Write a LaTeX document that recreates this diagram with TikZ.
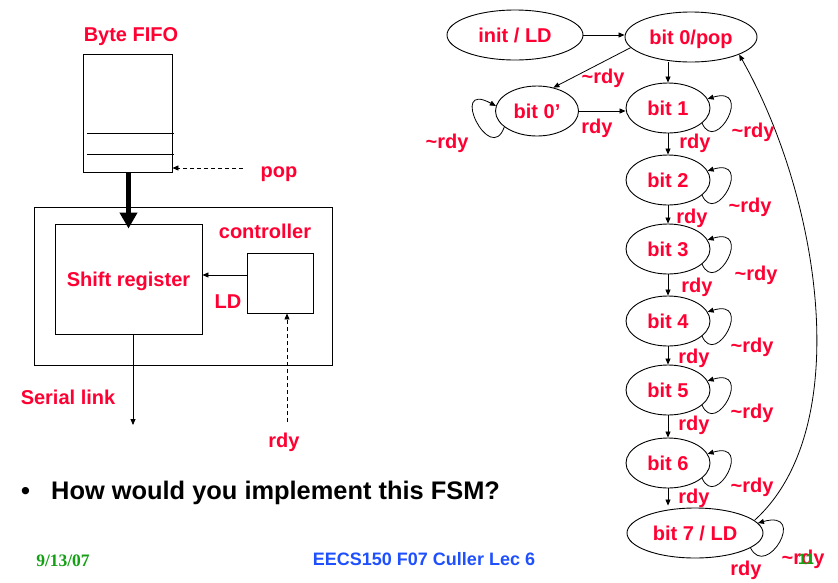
\documentclass[tikz,border=0pt]{standalone}
\usepackage{fontspec}
\setmainfont{Liberation Sans}
\newfontfamily\timesfont{Liberation Serif}
\usetikzlibrary{arrows.meta,shapes.geometric,calc}
\definecolor{myred}{RGB}{255,0,51}
\definecolor{mygreen}{RGB}{20,160,20}
\definecolor{myblue}{RGB}{30,80,255}
\begin{document}
\begin{tikzpicture}[x=1pt,y=-1pt,
  lbl/.style={font=\fontsize{20}{24}\selectfont\bfseries, text=myred, inner sep=0pt, anchor=base},
  state/.style={ellipse, draw, line width=0.9pt, inner sep=0pt, text=myred,
    font=\fontsize{20}{24}\selectfont\bfseries, text height=14.3pt, text depth=0pt,
    minimum width=84pt, minimum height=50pt},
  box/.style={draw, line width=0.9pt, inner sep=0pt},
  arr/.style={line width=0.8pt, -{Triangle[length=6pt,width=5pt]}},
  dasharr/.style={line width=0.8pt, dash pattern=on 4pt off 3pt, -{Triangle[length=6pt,width=5pt]}},
  selfloop/.style={line width=0.8pt, -{Triangle[length=6pt,width=5pt]}}
]
\useasboundingbox[fill=white] (0,0) rectangle (838,582);

% ---------- left block diagram ----------
\node[box, minimum width=89pt, minimum height=118pt] (fifo) at (127.5,113) {};
\draw[line width=0.9pt] (87,133) -- (174,133);
\draw[line width=0.9pt] (87,154) -- (174,154);
\node[lbl] (fifolbl) at (131,41) {Byte FIFO};

\node[box, minimum width=298pt, minimum height=158pt] (outer) at (183,286) {};
\node[box, minimum width=147pt, minimum height=110pt, text=myred,
      font=\fontsize{20}{24}\selectfont\bfseries, text height=14.3pt, text depth=0pt] (sr) at (128.5,279) {Shift register};
\node[box, minimum width=66pt, minimum height=60pt] (ctrl) at (280,283) {};
\node[lbl] (ctrllbl) at (265,238) {controller};
\node[lbl] (ldlbl) at (228,308) {LD};

\draw[line width=5pt, -{Triangle[length=16pt,width=17pt]}] (sr.north |- fifo.south) -- ([yshift=-5pt]sr.north);

\coordinate (popsrc) at (243,168);
\draw[dasharr] (popsrc) -- (popsrc -| fifo.east);
\node[lbl] (poplbl) at (279,177) {pop};

\draw[arr] ([yshift=8pt]ctrl.west) -- ([yshift=8pt]ctrl.west -| sr.east);

\coordinate (ser) at (133,425);
\draw[arr] (ser |- sr.south) -- (ser);
\node[lbl] (serlbl) at (68,404) {Serial link};

\coordinate (rdysrc) at (287,422);
\draw[dasharr] (rdysrc) -- (rdysrc |- ctrl.south);
\node[lbl] (rdylbl) at (284,447) {rdy};

\node[font=\fontsize{25.4}{30}\selectfont\bfseries, inner sep=0pt, anchor=base] (bul) at (25.5,499) {•};
\node[font=\fontsize{25.4}{30}\selectfont\bfseries, inner sep=0pt, anchor=base west] (q) at (51,499) {How would you implement this FSM?};

% ---------- footer ----------
\node[font=\timesfont\fontsize{17.5}{20}\selectfont\bfseries, text=mygreen, inner sep=0pt, anchor=base] (date) at (63,566) {9/13/07};
\node[font=\fontsize{18}{21}\selectfont\bfseries, text=myblue, inner sep=0pt, anchor=base] (title) at (424,565) {EECS150 F07 Culler Lec 6};

% ---------- FSM ----------
\node[state, minimum width=136pt] (init) at (515,35) {init / LD};
\node[state, minimum width=132pt] (b0) at (691,37) {bit 0/pop};
\node[state, minimum width=83pt] (b0p) at (537,111) {bit 0’};
\node[state] (b1) at (668,108) {bit 1};
\node[state] (b2) at (668,180) {bit 2};
\node[state] (b3) at (668,249) {bit 3};
\node[state] (b4) at (668,321) {bit 4};
\node[state] (b5) at (668,390) {bit 5};
\node[state] (b6) at (668,463) {bit 6};
\node[state, minimum width=136pt] (b7) at (695,533) {bit 7 / LD};

\draw[arr] (init.east) -- (init.east -| b0.west);
\draw[arr] (b1.north |- b0.south) -- (b1.north);
\draw[arr] (b0.190) -- (b0p.55);
\draw[arr] (b0p.east) -- (b0p.east -| b1.west);
\draw[arr] (b1.south) -- (b2.north);
\draw[arr] (b2.south) -- (b3.north);
\draw[arr] (b3.south) -- (b4.north);
\draw[arr] (b4.south) -- (b5.north);
\draw[arr] (b5.south) -- (b6.north);
\draw[arr] (b6.south) -- ([yshift=2pt]b6.south |- b7.north);

% self loops
\draw[selfloop] (b0p.206) .. controls +(-14,40) and +(-48,-26) .. (b0p.173);
\foreach \s in {b1,b2,b3,b4,b5,b6}{
  \draw[selfloop] (\s.-24) .. controls +(14,32) and +(46,-14) .. (\s.13);
}
\draw[selfloop] (b7.-15) .. controls +(16,32) and +(50,-14) .. (b7.9);

% long return arrow
\draw[arr] (b7.12) .. controls +(101,-91) and +(82,145) .. (b0.-20);

% edge labels
\node[lbl] (l1) at (603,83) {\textasciitilde rdy};
\node[lbl] (l2) at (597,133) {rdy};
\node[lbl] (l3) at (447,148) {\textasciitilde rdy};
\node[lbl] (l4) at (753,137) {\textasciitilde rdy};
\node[lbl] (l5) at (695,148) {rdy};
\node[lbl] (l6) at (750,212) {\textasciitilde rdy};
\node[lbl] (l7) at (692,223) {rdy};
\node[lbl] (l8) at (756,280) {\textasciitilde rdy};
\node[lbl] (l9) at (697,292) {rdy};
\node[lbl] (l10) at (752,352) {\textasciitilde rdy};
\node[lbl] (l11) at (694,363) {rdy};
\node[lbl] (l12) at (752,418) {\textasciitilde rdy};
\node[lbl] (l13) at (694,430) {rdy};
\node[lbl] (l14) at (752,492) {\textasciitilde rdy};
\node[lbl] (l15) at (694,503) {rdy};
\node[lbl] (l16) at (746,575) {rdy};
\node[lbl] (l17) at (803,564) {\textasciitilde rdy};
\node[font=\fontsize{15}{18}\selectfont\bfseries, text=mygreen, inner sep=0pt, anchor=base] (pg) at (806,564) {11};
\end{tikzpicture}
\end{document}
